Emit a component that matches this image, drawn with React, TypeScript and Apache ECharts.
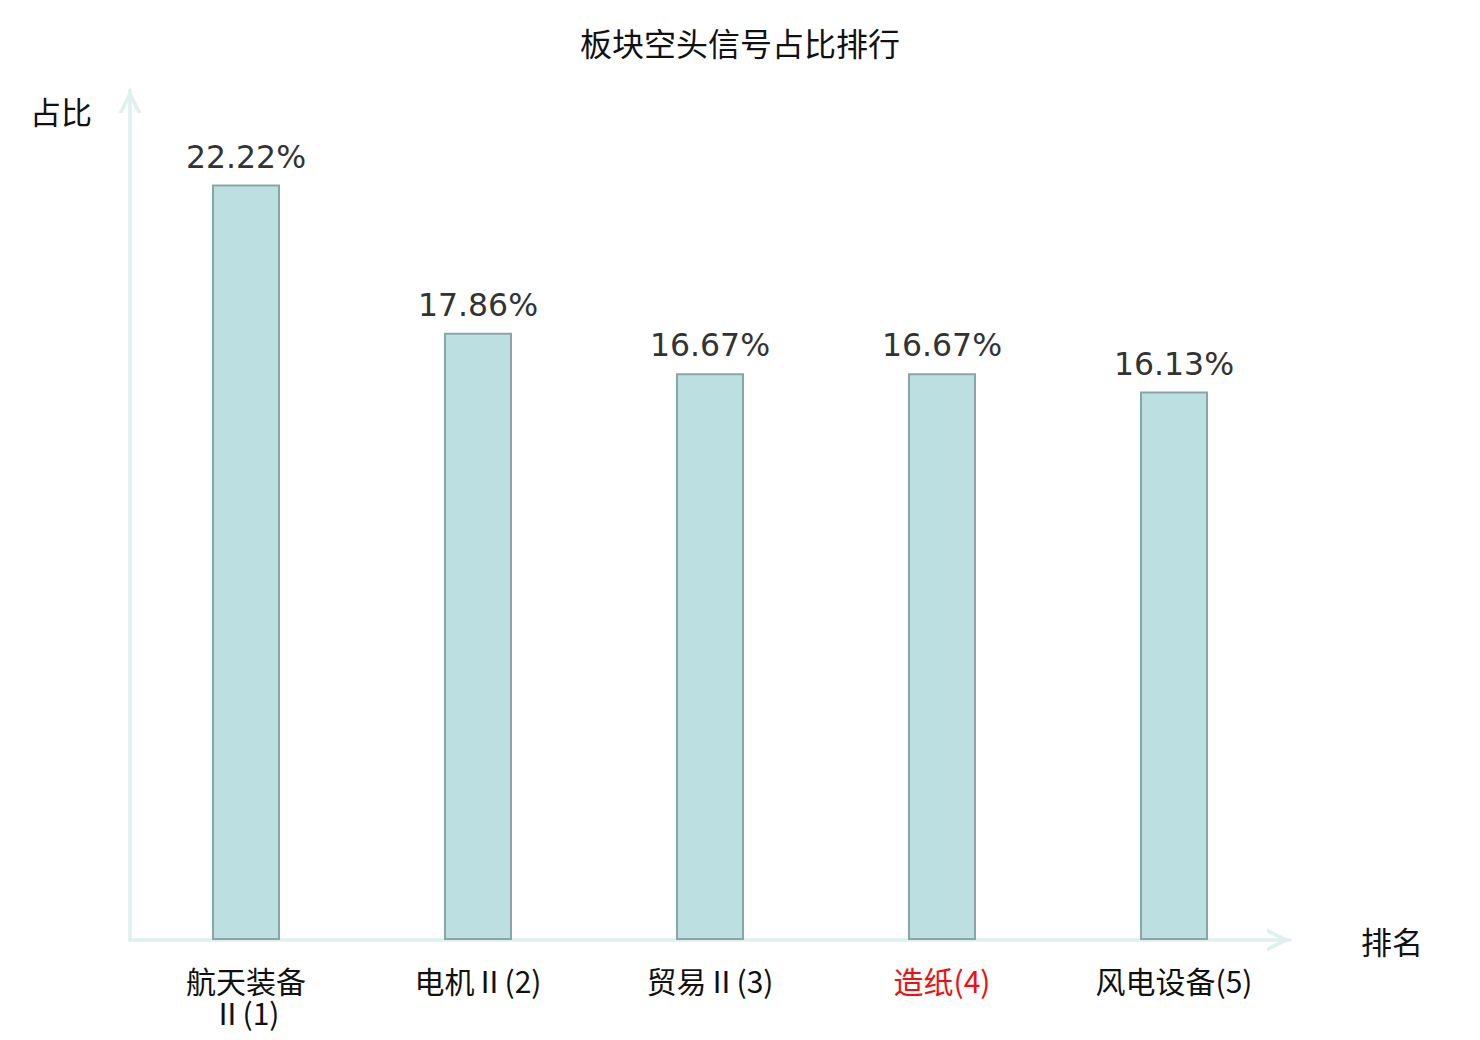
import React, { useEffect, useRef } from "react";
import * as echarts from "echarts";

const categories = ["航天装备Ⅱ(1)", "电机Ⅱ(2)", "贸易Ⅱ(3)", "造纸(4)", "风电设备(5)"];
const values = [22.22, 17.86, 16.67, 16.67, 16.13];
const highlightIndex = 3;
const titleText = "板块空头信号占比排行";
const xName = "排名";
const yName = "占比";

const AXIS_COLOR = "#ddf1ee";
const chevron = "path://M0,20 L10,0 L20,20 L16.5,20 L10,7 L3.5,20 Z";

export default function App() {
  const ref = useRef<HTMLDivElement>(null);
  useEffect(() => {
    document.body.style.margin = "0";
    const chart = echarts.init(ref.current!, undefined, { renderer: "svg" });
    chart.setOption({
      animation: false,
      backgroundColor: "#ffffff",
      title: {
        text: titleText,
        left: "center",
        top: 21,
        textStyle: {
          fontFamily: "Noto Sans CJK SC",
          fontSize: 32,
          fontWeight: "normal",
          color: "#111",
        },
      },
      grid: { left: 130, right: 190, top: 90, bottom: 100, containLabel: false },
      xAxis: {
        type: "category",
        data: categories,
        name: xName,
        nameLocation: "end",
        nameGap: 71,
        nameTextStyle: {
          fontFamily: "Noto Sans CJK SC",
          fontSize: 31,
          color: "#111",
          align: "left",
          verticalAlign: "middle",
        },
        axisLine: {
          show: true,
          symbol: ["none", chevron],
          symbolSize: [24, 23],
          symbolOffset: [0, -11.5],
          lineStyle: { color: AXIS_COLOR, width: 3.5 },
        },
        axisTick: { show: false },
        axisLabel: {
          margin: 24,
          fontFamily: "Noto Sans CJK SC",
          fontSize: 30,
          lineHeight: 32,
          interval: 0,
          color: (_v: any, i: number) => (i === highlightIndex ? "#ee1111" : "#111"),
          formatter: (v: string) => (v.length > 7 ? v.slice(0, 4) + "\n" + v.slice(4) : v),
        },
      },
      yAxis: {
        type: "value",
        min: 0,
        max: 25,
        name: yName,
        nameLocation: "end",
        nameGap: -20,
        nameTextStyle: {
          fontFamily: "Noto Sans CJK SC",
          fontSize: 31,
          color: "#111",
          align: "right",
          verticalAlign: "middle",
          padding: [0, 38, 0, 0],
        },
        axisLine: {
          show: true,
          symbol: ["none", chevron],
          symbolSize: [24, 23],
          symbolOffset: [0, -11.5],
          lineStyle: { color: AXIS_COLOR, width: 3.5 },
        },
        axisTick: { show: false },
        axisLabel: { show: false },
        splitLine: { show: false },
      },
      series: [
        {
          type: "bar",
          data: values,
          barWidth: 68,
          itemStyle: { color: "#bce0e2", borderColor: "#8aa5a6", borderWidth: 2 },
          label: {
            show: true,
            position: "top",
            distance: 12,
            formatter: (p: any) => p.value.toFixed(2) + "%",
            fontFamily: "DejaVu Sans",
            fontSize: 31.5,
            color: "#333",
          },
        },
      ],
    });
    return () => chart.dispose();
  }, []);
  return <div ref={ref} style={{ width: 1480, height: 1040 }} />;
}
